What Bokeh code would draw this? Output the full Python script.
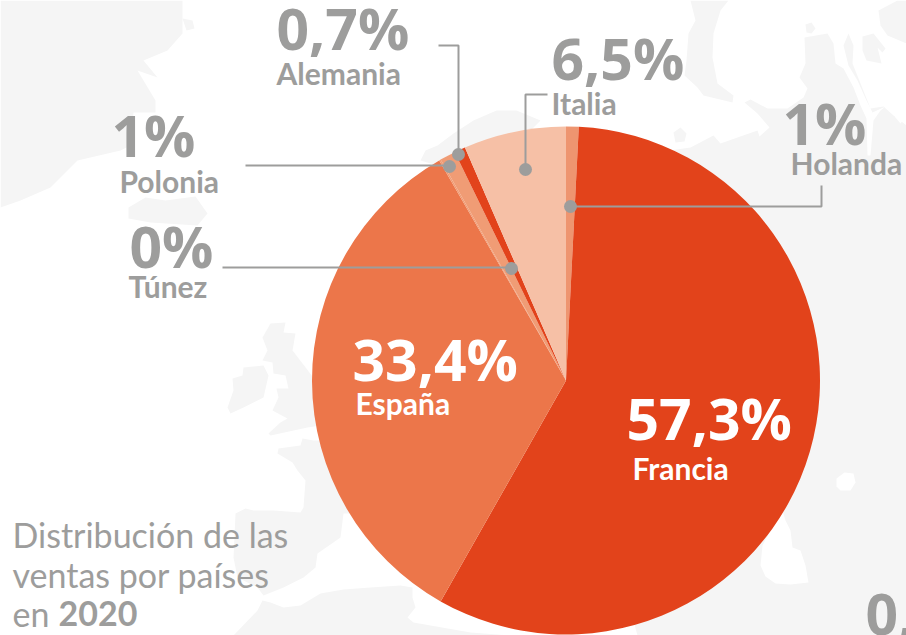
import math
from bokeh.plotting import figure
from bokeh.models import Range1d
from bokeh.core.properties import value
from bokeh.embed import file_html
from bokeh.resources import INLINE

# ---- chart data (clockwise from 12 o'clock) ----
countries = ["Holanda", "Francia", "España", "Túnez", "Polonia", "Alemania", "Italia"]
shares = [0.8, 57.3, 33.4, 0.1, 1.0, 0.7, 6.5]
share_labels = ["1%", "57,3%", "33,4%", "0%", "1%", "0,7%", "6,5%"]
slice_colors = ["#EE9570", "#E2431B", "#EC764A", "#F09C75", "#F09C75", "#E2431B", "#F6C0A6"]
title_lines = ["Distribución de las", "ventas por países", "en "]
title_year = "2020"

# ---- label layout (page pixels) ----
GREY = "#9D9D9C"
LAND = "#F5F5F5"
PCT_SIZE, NAME_SIZE, TITLE_SIZE = 57, 30, 34
LIFT = 0.36
pct_x = [782, 626, 352, 129, 111, 276, 551]
pct_y = [143, 438, 379, 266, 155, 48, 78]
name_x = [790, 632, 355, 128, 119, 276, 551]
name_y = [173, 478, 413, 296, 191, 83, 113]
text_colors = [GREY, "#FFFFFF", "#FFFFFF", GREY, GREY, GREY, GREY]

leader_xs = [[821, 821, 570], [222, 511], [245, 449], [438, 458, 458], [547, 525, 525]]
leader_ys = [[185, 206, 206], [267, 267], [165, 165], [45, 45, 154], [94, 94, 169]]
dot_x = [570, 511, 449, 458, 525]
dot_y = [206, 268, 166, 154, 169]

# ---- decorative background map outlines (page pixels) ----
land_shapes = [
    [(0,0),(182,0),(182,33),(167,50),(143,60),(157,77),(137,70),(155,100),(155,112),(133,112),(130,145),
     (120,150),(77,160),(50,187),(20,200),(0,207)],
    [(182,18),(192,20),(194,28),(186,30)],
    [(128,207),(145,197),(165,200),(195,196),(207,213),(197,225),(150,222),(128,218)],
    [(420,160),(425,150),(437,145),(453,133),(473,120),(496,110),(516,110),(540,120),(530,130),(440,166)],
    [(690,0),(695,20),(688,33),(686,60),(684,75),(697,87),(703,95),(732,102),(733,95),(717,83),(712,57),
     (713,33),(720,10),(728,0)],
    [(673,132),(680,127),(686,133),(684,141),(675,142)],
    [(805,24),(811,22),(815,28),(811,33),(806,32)],
    [(878,10),(897,0),(906,0),(906,43),(887,35),(880,25)],
    [(862,36),(873,33),(885,48),(882,52),(877,47),(881,63),(866,60),(862,50)],
    [(600,160),(690,147),(713,135),(720,143),(737,137),(757,130),(759,136),(769,127),(757,113),(744,102),
     (750,99),(767,108),(787,108),(803,97),(807,88),(799,77),(805,63),(804,37),(827,33),(833,43),(835,63),
     (843,68),(853,87),(860,105),(866,118),(867,155),(870,155),(873,120),(880,110),(885,106),(872,112),
     (866,100),(857,80),(848,65),(843,45),(848,33),(853,45),(852,63),(862,88),(870,108),(883,106),(893,115),
     (906,125),(906,635),(637,635),(600,500)],
    [(270,323),(285,322),(283,332),(295,333),(292,350),(302,363),(315,380),(320,425),(307,427),(270,435),
     (268,433),(280,422),(287,418),(272,410),(278,397),(276,388),(288,388),(285,375),(273,373),(272,362),
     (262,360),(267,350),(262,337)],
    [(243,367),(263,365),(268,375),(263,397),(243,407),(230,413),(227,407),(233,390),(232,378),(242,375)],
    [(233,557),(235,513),(245,508),(253,510),(273,510),(300,512),(303,507),(305,480),(297,470),(292,462),
     (277,453),(278,448),(300,445),(302,438),(313,440),(350,440),(350,513),(343,513),(340,537),(317,553),
     (315,567),(303,577),(283,587),(263,595),(257,587),(237,577)],
    [(233,635),(257,610),(262,600),(270,602),(283,607),(300,605),(320,593),(343,589),(370,587),(400,585),
     (412,587),(412,597),(415,607),(407,617),(413,622),(470,632),(510,635)],
]
sea_shapes = [
    [(836,478),(844,472),(853,473),(855,482),(850,490),(840,490),(836,486)],
    [(782,510),(785,520),(790,530),(792,547),(800,550),(805,565),(808,582),(790,584),(775,583),(765,576),
     (760,565),(762,545),(770,530)],
    [(893,110),(898,111),(902,120),(900,123),(895,117)],
]

p = figure(width=906, height=635, output_backend="svg", toolbar_location=None,
           x_range=Range1d(0, 906), y_range=Range1d(635, 0),
           min_border=0, outline_line_color=None, background_fill_color="#FFFFFF")
p.axis.visible = False
p.grid.visible = False

p.patches([[c[0] for c in s] for s in land_shapes], [[c[1] for c in s] for s in land_shapes],
          fill_color=LAND, line_color=None)
p.patches([[c[0] for c in s] for s in sea_shapes], [[c[1] for c in s] for s in sea_shapes],
          fill_color="#FFFFFF", line_color=None)

# pie
CX, CY, R = 565.5, 380, 254
total = sum(shares)
starts, ends, run = [], [], 0.0
for v in shares:
    starts.append(math.pi / 2 - 2 * math.pi * run / total)
    run += v
    ends.append(math.pi / 2 - 2 * math.pi * run / total)
p.wedge(x=CX, y=CY, radius=R, start_angle=starts, end_angle=ends, direction="clock",
        fill_color=slice_colors, line_color=None)

# leaders
p.multi_line(leader_xs, leader_ys, line_color=GREY, line_width=2)
p.scatter(dot_x, dot_y, size=13, fill_color=GREY, line_color=None)

# labels
NUM_FONT = value("Open Sans")
FONT = value("Lato")
def lifted(ys, size):
    return [y - LIFT * size for y in ys]

p.text(x=pct_x, y=lifted(pct_y, PCT_SIZE), text=share_labels, text_color=text_colors, text_font=NUM_FONT,
       text_font_style="bold", text_font_size=f"{PCT_SIZE}px", text_baseline="alphabetic", text_align="left")
p.text(x=name_x, y=lifted(name_y, NAME_SIZE), text=countries, text_color=text_colors, text_font=FONT,
       text_font_style="bold", text_font_size=f"{NAME_SIZE}px", text_baseline="alphabetic", text_align="left")

# title and the cropped figure at the lower right edge
p.text(x=[12, 12, 12], y=lifted([546, 586, 625], TITLE_SIZE), text=title_lines, text_color=GREY, text_font=FONT,
       text_font_size=f"{TITLE_SIZE}px", text_baseline="alphabetic", text_align="left")
p.text(x=[58], y=lifted([625], TITLE_SIZE), text=[title_year], text_color=GREY, text_font=FONT, text_font_style="bold",
       text_font_size=f"{TITLE_SIZE}px", text_baseline="alphabetic", text_align="left")
p.text(x=[865], y=lifted([635], PCT_SIZE), text=["0,"], text_color=GREY, text_font=NUM_FONT, text_font_style="bold",
       text_font_size=f"{PCT_SIZE}px", text_baseline="alphabetic", text_align="left")

open("out.html", "w").write(file_html(p, INLINE))
